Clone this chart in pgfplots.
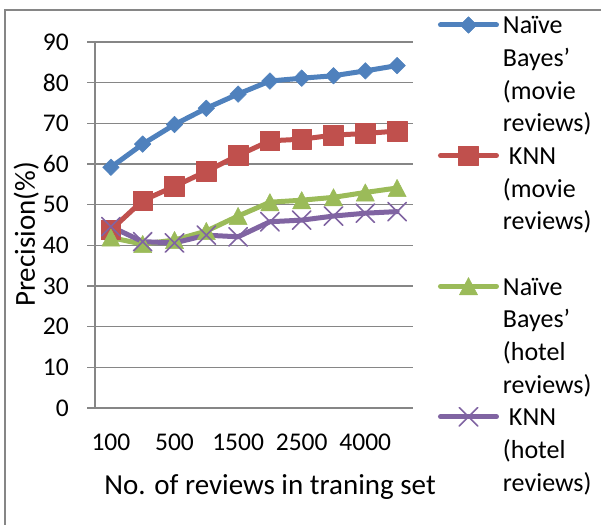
\documentclass[border=0pt]{standalone}
\usepackage{fontspec}
\setmainfont{Carlito}
\usepackage{pgfplots}
\pgfplotsset{compat=1.18}
\definecolor{cblue}{HTML}{4F81BD}
\definecolor{cred}{HTML}{C0504D}
\definecolor{cgreen}{HTML}{9BBB59}
\definecolor{cpurple}{HTML}{8064A2}
\definecolor{cgrid}{HTML}{868686}
\newcommand{\lline}[1]{\rule{0pt}{31.15pt}\smash{#1}}
\begin{document}
\begin{tikzpicture}
\useasboundingbox (0,0) rectangle (601pt,524pt);
\draw[cgrid, line width=1.2pt] (5pt,-40pt) rectangle (660pt,514pt);
\begin{axis}[
  at={(95pt,116pt)}, anchor=south west,
  scale only axis, width=318pt, height=366pt,
  xmin=-0.5, xmax=9.5, ymin=0, ymax=90,
  ytick={0,10,...,90},
  xtick={0,2,4,6,8}, xticklabels={100,500,1500,2500,4000},
  axis y line*=left, axis x line*=bottom,
  ymajorgrids, major grid style={cgrid, line width=1.5pt},
  axis line style={cgrid, line width=1.5pt},
  tick align=outside, major tick length=8pt,
  ytick style={cgrid, line width=1.5pt},
  xtick style={draw=none},
  /pgf/number format/assume math mode=true,
  tick label style={font=\fontsize{25.5}{30}\selectfont, text=black},
  yticklabel style={anchor=east, inner sep=0pt, xshift=-18pt},
  xticklabel style={anchor=base, inner sep=0pt, yshift=-34pt},
  xlabel={No. of reviews in traning set},
  xlabel style={at={(axis description cs:0.5503,-0.235)}, anchor=base, inner sep=0pt, font=\fontsize{29}{34}\selectfont},
  ylabel={Precision(\%)},
  ylabel style={at={(axis description cs:-0.1887,0.474)}, anchor=base, inner sep=0pt, font=\fontsize{29}{34}\selectfont},
  clip=false,
  every axis plot/.append style={line width=5pt, line cap=round, line join=round},
  legend image code/.code={\draw[mark repeat=2, mark phase=2, #1] plot coordinates {(0pt,9pt) (28pt,9pt) (56pt,9pt)};},
  legend style={at={(axis description cs:1.0786,1.107)}, anchor=north west, draw=none, fill=none,
    inner sep=0pt, outer sep=0pt, row sep=0pt, column sep=4pt,
    font=\fontsize{26}{32.5}\selectfont, cells={anchor=base west}, nodes={inner sep=0pt, outer sep=0pt}},
]
\addplot[cblue, mark=diamond*, mark size=8.3pt, mark options={xscale=1.33, line width=0.5pt}] coordinates {
 (0,59.2) (1,64.9) (2,69.7) (3,73.7) (4,77.2) (5,80.4) (6,81.1) (7,81.7) (8,82.9) (9,84.2)};
\addlegendentry{\lline{Naïve}}
\addlegendimage{empty legend}\addlegendentry{\lline{Bayes’}}
\addlegendimage{empty legend}\addlegendentry{\lline{(movie}}
\addlegendimage{empty legend}\addlegendentry{\lline{reviews)}}
\addplot[cred, mark=square*, mark size=9.8pt, mark options={line width=0.5pt}] coordinates {
 (0,43.8) (1,51.0) (2,54.5) (3,58.2) (4,62.1) (5,65.7) (6,66.1) (7,67.1) (8,67.5) (9,68.1)};
\addlegendentry{\lline{\hspace{6pt}KNN}}
\addlegendimage{empty legend}\addlegendentry{\lline{(movie}}
\addlegendimage{empty legend}\addlegendentry{\lline{reviews)}}
\addlegendimage{empty legend}\addlegendentry{\lline{}}
\addplot[cgreen, mark=triangle*, mark size=10.5pt, mark options={yscale=1.1, yshift=-2.6pt, line width=0.5pt}] coordinates {
 (0,41.9) (1,40.3) (2,41.3) (3,43.5) (4,47.2) (5,50.6) (6,51.1) (7,51.8) (8,53.0) (9,54.1)};
\addlegendentry{\lline{Naïve}}
\addlegendimage{empty legend}\addlegendentry{\lline{Bayes’}}
\addlegendimage{empty legend}\addlegendentry{\lline{(hotel}}
\addlegendimage{empty legend}\addlegendentry{\lline{reviews)}}
\addplot[cpurple, mark=x, mark size=13pt, mark options={line width=1.6pt}] coordinates {
 (0,44.6) (1,40.9) (2,40.6) (3,42.5) (4,42.1) (5,45.8) (6,46.2) (7,47.2) (8,47.9) (9,48.3)};
\addlegendentry{\lline{\hspace{6pt}KNN}}
\addlegendimage{empty legend}\addlegendentry{\lline{(hotel}}
\addlegendimage{empty legend}\addlegendentry{\lline{reviews)}}
\end{axis}
\end{tikzpicture}
\end{document}
